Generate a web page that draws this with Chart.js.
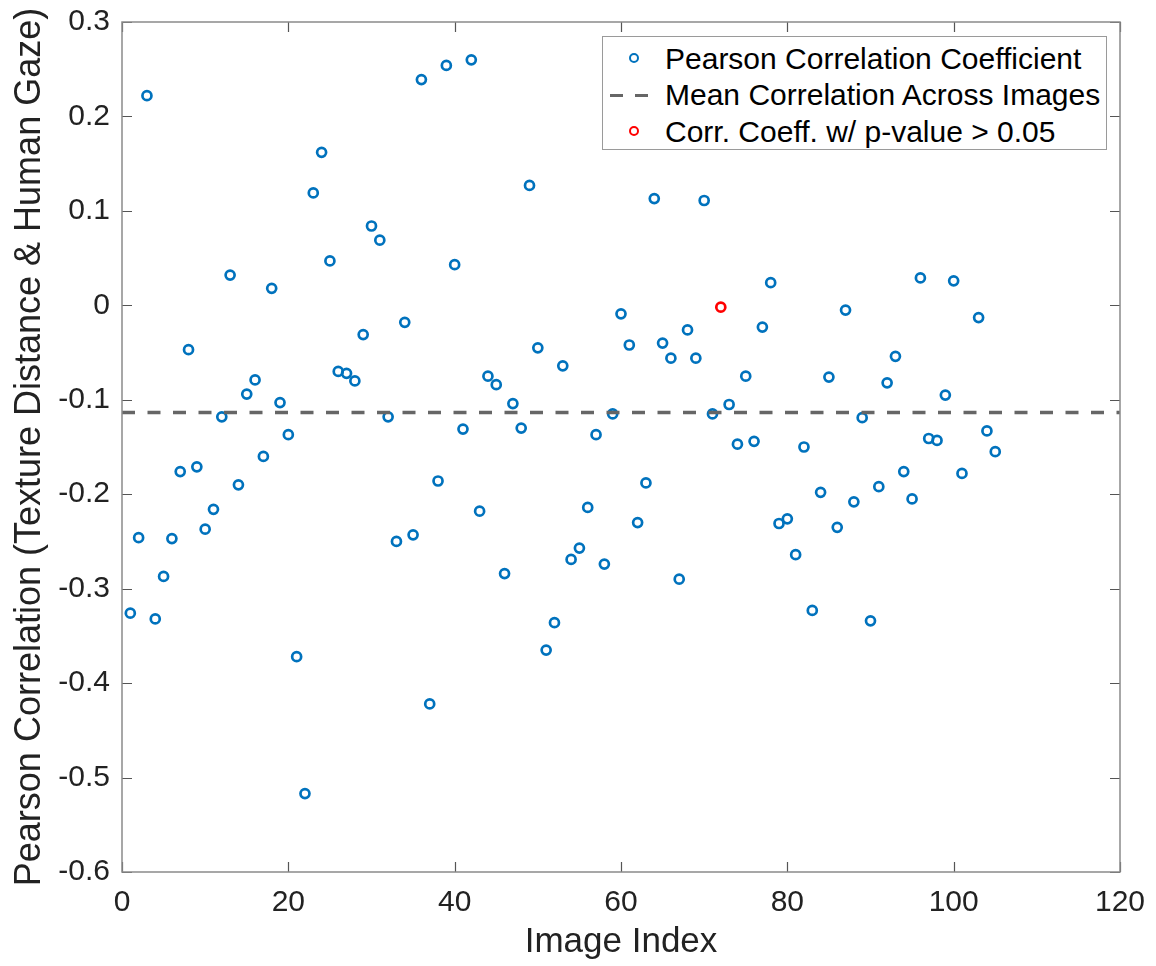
<!DOCTYPE html>
<html>
<head>
<meta charset="utf-8">
<title>Pearson correlation per image</title>
<script src="https://cdn.jsdelivr.net/npm/chart.js@4.4.1/dist/chart.umd.min.js"></script>
<style>
  html, body { margin: 0; padding: 0; background: #fff; }
  #wrap { position: relative; width: 1156px; height: 966px; }
  #legend {
    position: absolute; left: 602px; top: 36px; width: 503px; height: 112px;
    border: 1px solid #9a9a9a; background: #fff;
    font-family: 'Liberation Sans', Arial, sans-serif; font-size: 30px; color: #000;
  }
  .lg-row { position: absolute; left: 0; right: 0; height: 36px; }
  .lg-text { position: absolute; left: 62px; top: 0; line-height: 36px; white-space: nowrap; }
  .lg-dot { position: absolute; left: 26px; top: 12.5px; width: 6px; height: 6px; border: 2.6px solid; border-radius: 50%; }
  .lg-dash { position: absolute; top: 16.5px; width: 13px; height: 0; border-top: 3.5px solid; }
</style>
</head>
<body>
<div id="wrap">
  <canvas id="chart" width="1156" height="966"></canvas>
  <div id="legend"></div>
</div>
<script>
// ── Data ──────────────────────────────────────────────────────────────

const imageIndex = [
  1, 2, 3, 4, 5, 6, 7, 8, 9, 10, 11, 12, 13, 14, 15, 16, 17, 18, 19, 20,
  21, 22, 23, 24, 25, 26, 27, 28, 29, 30, 31, 32, 33, 34, 35, 36, 37, 38, 39, 40,
  41, 42, 43, 44, 45, 46, 47, 48, 49, 50, 51, 52, 53, 54, 55, 56, 57, 58, 59, 60,
  61, 62, 63, 64, 65, 66, 67, 68, 69, 70, 71, 73, 74, 75, 76, 77, 78, 79, 80,
  81, 82, 83, 84, 85, 86, 87, 88, 89, 90, 91, 92, 93, 94, 95, 96, 97, 98, 99, 100,
  101, 103, 104, 105
];
const corrCoeff = [
  -0.326, -0.246, 0.222, -0.332, -0.287, -0.247, -0.176, -0.047, -0.171, -0.237,
  -0.216, -0.118, 0.032, -0.190, -0.094, -0.079, -0.160, 0.018, -0.103, -0.137,
  -0.372, -0.517, 0.119, 0.162, 0.047, -0.070, -0.072, -0.080, -0.031, 0.084,
  0.069, -0.118, -0.250, -0.018, -0.243, 0.239, -0.422, -0.186, 0.254, 0.043,
  -0.131, 0.260, -0.218, -0.075, -0.084, -0.284, -0.104, -0.130, 0.127, -0.045,
  -0.365, -0.336, -0.064, -0.269, -0.257, -0.214, -0.137, -0.274, -0.115, -0.009,
  -0.042, -0.230, -0.188, 0.113, -0.040, -0.056, -0.290, -0.026, -0.056, 0.111,
  -0.115, -0.105, -0.147, -0.075, -0.144, -0.023, 0.024, -0.231, -0.226,
  -0.264, -0.150, -0.323, -0.198, -0.076, -0.235, -0.005, -0.208, -0.119, -0.334,
  -0.192, -0.082, -0.054, -0.176, -0.205, 0.029, -0.141, -0.143, -0.095, 0.026,
  -0.178, -0.013, -0.133, -0.155
];

// images whose correlation is not significant (p > 0.05)
const insigIndex = [72];
const insigCoeff = [-0.002];

const meanCorr = -0.1135;
const xRange = [0, 120];
const yRange = [-0.6, 0.3];

const labels = [
  'Pearson Correlation Coefficient',
  'Mean Correlation Across Images',
  'Corr. Coeff. w/ p-value > 0.05'
];

// ── Style ─────────────────────────────────────────────────────────────

const FONT = "'Liberation Sans', Arial, Helvetica, sans-serif";
const BLUE = '#0072bd';
const RED = '#ff0000';
const MEAN_GREY = '#666666';

// draws the boxed axes with MATLAB-style inward tick marks
const boxTicks = {
  id: 'boxTicks',
  afterDraw(chart) {
    const { ctx, chartArea: a, scales: { x, y } } = chart;
    ctx.save();
    ctx.strokeStyle = '#555';
    ctx.lineWidth = 1.2;
    ctx.beginPath();
    x.ticks.forEach(t => {
      const px = Math.round(x.getPixelForValue(t.value)) + 0.5;
      ctx.moveTo(px, a.bottom); ctx.lineTo(px, a.bottom - 10);
      ctx.moveTo(px, a.top); ctx.lineTo(px, a.top + 10);
    });
    y.ticks.forEach(t => {
      const py = Math.round(y.getPixelForValue(t.value)) + 0.5;
      ctx.moveTo(a.left, py); ctx.lineTo(a.left + 10, py);
      ctx.moveTo(a.right, py); ctx.lineTo(a.right - 10, py);
    });
    ctx.stroke();
    ctx.strokeStyle = '#8a8a8a';
    ctx.lineWidth = 1.5;
    ctx.strokeRect(a.left, a.top, a.right - a.left, a.bottom - a.top);
    ctx.restore();
  }
};

const blueData = imageIndex.map((xv, i) => ({ x: xv, y: corrCoeff[i] }));
const redData = insigIndex.map((xv, i) => ({ x: xv, y: insigCoeff[i] }));
const meanData = xRange.map(xv => ({ x: xv, y: meanCorr }));

const chart = new Chart(document.getElementById('chart'), {
  type: 'scatter',
  data: {
    datasets: [
      {
        label: labels[0], data: blueData, order: 3,
        pointStyle: 'circle', pointRadius: 4.5, pointHoverRadius: 4.5,
        pointBorderWidth: 2.7, borderColor: BLUE, backgroundColor: 'rgba(0,0,0,0)'
      },
      {
        type: 'line', label: labels[1], data: meanData, order: 2,
        borderColor: MEAN_GREY, borderWidth: 3.5, borderDash: [13, 12.5],
        pointRadius: 0, fill: false
      },
      {
        label: labels[2], data: redData, order: 1,
        pointStyle: 'circle', pointRadius: 4.5, pointHoverRadius: 4.5,
        pointBorderWidth: 2.7, borderColor: RED, backgroundColor: 'rgba(0,0,0,0)'
      }
    ]
  },
  options: {
    responsive: false,
    animation: false,
    events: [],
    layout: { padding: { top: 22, right: 36, bottom: 0, left: 0 } },
    plugins: { legend: { display: false }, tooltip: { enabled: false } },
    scales: {
      x: {
        type: 'linear', min: xRange[0], max: xRange[1],
        grid: { display: false, drawTicks: false },
        border: { display: false },
        ticks: { stepSize: 20, padding: 13, maxRotation: 0, color: '#222', font: { family: FONT, size: 30 } },
        title: { display: true, text: 'Image Index', color: '#222',
                 font: { family: FONT, size: 35 }, padding: { top: 0, bottom: 3 } },
        afterFit(s) { s.height = 94; s.paddingLeft = 0; s.paddingRight = 0; }
      },
      y: {
        type: 'linear', min: yRange[0], max: yRange[1],
        grid: { display: false, drawTicks: false },
        border: { display: false },
        ticks: {
          stepSize: 0.1, padding: 12, color: '#222', font: { family: FONT, size: 30 },
          callback: v => String(Math.round(v * 10) / 10)
        },
        title: { display: true, text: 'Pearson Correlation (Texture Distance & Human Gaze)', color: '#222',
                 font: { family: FONT, size: 36 }, padding: { top: 8, bottom: 0 } },
        afterFit(s) { s.width = 122; s.paddingTop = 0; s.paddingBottom = 0; }
      }
    }
  },
  plugins: [boxTicks]
});

// ── Legend (HTML, built from the dataset labels) ──────────────────────

function buildLegend() {
  const box = document.getElementById('legend');
  chart.data.datasets.forEach((ds, i) => {
    const row = document.createElement('div');
    row.className = 'lg-row';
    row.style.top = (3.7 + i * 36.6) + 'px';
    if (ds.type === 'line') {
      [7, 32].forEach(left => {
        const d = document.createElement('div');
        d.className = 'lg-dash';
        d.style.left = left + 'px';
        d.style.borderColor = ds.borderColor;
        row.appendChild(d);
      });
    } else {
      const dot = document.createElement('div');
      dot.className = 'lg-dot';
      dot.style.borderColor = ds.borderColor;
      row.appendChild(dot);
    }
    const txt = document.createElement('div');
    txt.className = 'lg-text';
    txt.textContent = ds.label;
    row.appendChild(txt);
    box.appendChild(row);
  });
}
buildLegend();
</script>
</body>
</html>
